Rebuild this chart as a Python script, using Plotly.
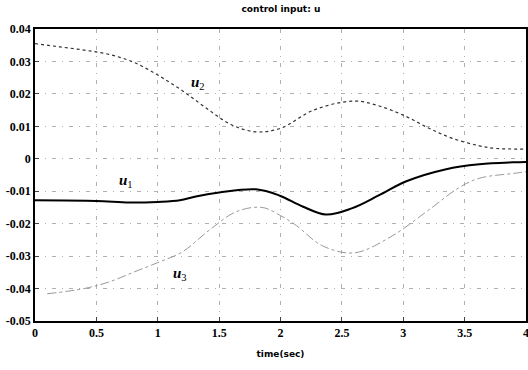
import plotly.graph_objects as go

t_u1 = [0, 0.5, 0.77, 1.0, 1.18, 1.31, 1.5, 1.8, 1.99, 2.18, 2.37, 2.58, 2.8, 3.02, 3.35, 3.62, 3.89, 4.0]
u1 = [-0.0128, -0.013, -0.0135, -0.0133, -0.0128, -0.0116, -0.0104, -0.0094, -0.0113, -0.0147, -0.0172,
      -0.0153, -0.0113, -0.007, -0.0032, -0.0017, -0.0011, -0.001]

t_u2 = [0, 0.2, 0.4, 0.6, 0.8, 1.0, 1.2, 1.4, 1.6, 1.8, 2.0, 2.27, 2.6, 2.81, 3.02, 3.21, 3.4, 3.62, 3.75, 4.0]
u2 = [0.0355, 0.0345, 0.0335, 0.0322, 0.0298, 0.0258, 0.021, 0.0155, 0.0105, 0.0083, 0.0094, 0.015, 0.0178,
      0.0162, 0.0131, 0.0094, 0.0063, 0.004, 0.0032, 0.003]

t_u3 = [0.1, 0.4, 0.6, 0.8, 1.0, 1.2, 1.42, 1.64, 1.85, 2.0, 2.13, 2.34, 2.6, 2.9, 3.2, 3.45, 3.62, 3.9, 4.0]
u3 = [-0.0416, -0.040, -0.038, -0.035, -0.032, -0.0287, -0.022, -0.0163, -0.015, -0.0175, -0.0206,
      -0.0268, -0.029, -0.024, -0.016, -0.009, -0.006, -0.0045, -0.004]

x_ticks = [0, 0.5, 1, 1.5, 2, 2.5, 3, 3.5, 4]
x_labels = ["0", "0.5", "1", "1.5", "2", "2.5", "3", "3.5", "4"]
y_ticks = [0.04, 0.03, 0.02, 0.01, 0, -0.01, -0.02, -0.03, -0.04, -0.05]
y_labels = ["0.04", "0.03", "0.02", "0.01", "0", "-0.01", "-0.02", "-0.03", "-0.04", "-0.05"]

fig = go.Figure()
fig.add_trace(go.Scatter(x=t_u2, y=u2, mode="lines", line=dict(color="#333333", width=1.2, dash="dot", shape="spline")))
fig.add_trace(go.Scatter(x=t_u3, y=u3, mode="lines", line=dict(color="#999999", width=1, dash="dashdot", shape="spline")))
fig.add_trace(go.Scatter(x=t_u1, y=u1, mode="lines", line=dict(color="black", width=2, shape="spline")))

lab_font = dict(family="Liberation Serif", size=15, color="black")
fig.add_annotation(x=1.33, y=0.0235, text="<b><i>u</i></b><sub>2</sub>", showarrow=False, font=lab_font)
fig.add_annotation(x=0.74, y=-0.0068, text="<b><i>u</i></b><sub>1</sub>", showarrow=False, font=lab_font)
fig.add_annotation(x=1.18, y=-0.0355, text="<b><i>u</i></b><sub>3</sub>", showarrow=False, font=lab_font)

grid = dict(showgrid=True, gridcolor="#b0b0b0", griddash="4px,6px,1px,6px", gridwidth=1)
tick_font = dict(family="Liberation Serif", size=12, color="black")
fig.update_xaxes(range=[0, 4], tickvals=x_ticks, ticktext=[f"<b>{s}</b>" for s in x_labels],
                 ticks="inside", ticklen=4, ticklabeloverflow="allow", automargin=False,
                 showline=True, linecolor="black", linewidth=1.5, mirror=True, zeroline=False,
                 tickfont=tick_font,
                 title=dict(text="<b>time(sec)</b>", font=dict(family="DejaVu Sans", size=9, color="black"), standoff=12),
                 **grid)
fig.update_yaxes(range=[-0.05, 0.04], tickvals=y_ticks, ticktext=[f"<b>{s}</b>" for s in y_labels],
                 ticks="inside", ticklen=4, automargin=False,
                 showline=True, linecolor="black", linewidth=1.5, mirror=True, zeroline=False,
                 tickfont=tick_font,
                 **grid)
fig.update_layout(
    width=528, height=370, showlegend=False,
    margin=dict(l=35, r=2, t=29, b=49),
    plot_bgcolor="white", paper_bgcolor="white",
    title=dict(text="<b>control input: u</b>", x=0.532, xanchor="center", y=0.985, yanchor="top",
               font=dict(family="DejaVu Sans", size=9, color="black")),
)
fig.write_html("out.html", config={"displayModeBar": False},
               post_script="document.body.style.margin='0';document.body.style.overflow='hidden';")
